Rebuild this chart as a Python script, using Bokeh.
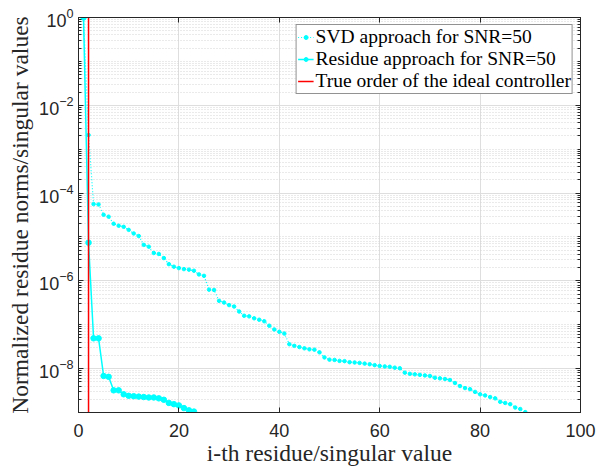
from bokeh.plotting import figure
from bokeh.models import (FixedTicker, LinearAxis, LogAxis, Range1d, Legend, LegendItem,
                          CustomJSTickFormatter)
from bokeh.embed import file_html
from bokeh.resources import INLINE

# ---- data ----
svd_idx = list(range(1, 90))
svd_vals = [1.0, 2.1e-3, 5.6e-5, 5.5e-5, 3.2e-5, 2.9e-5, 2.0e-5, 1.8e-5, 1.7e-5, 1.45e-5,
            1.2e-5, 1.05e-5, 6.6e-6, 6.0e-6, 4.3e-6, 4.1e-6, 3.3e-6, 2.4e-6, 2.1e-6, 1.95e-6,
            1.85e-6, 1.8e-6, 1.7e-6, 1.4e-6, 1.3e-6, 6.3e-7, 6.2e-7, 3.5e-7, 3.2e-7, 2.8e-7,
            2.6e-7, 2.0e-7, 1.6e-7, 1.55e-7, 1.4e-7, 1.3e-7, 1.2e-7, 9.5e-8, 7.8e-8, 6.9e-8,
            6.3e-8, 3.6e-8, 3.3e-8, 3.1e-8, 2.9e-8, 2.75e-8, 2.7e-8, 2.35e-8, 1.8e-8, 1.6e-8,
            1.58e-8, 1.5e-8, 1.48e-8, 1.4e-8, 1.38e-8, 1.35e-8, 1.3e-8, 1.26e-8, 1.2e-8, 1.15e-8,
            1.12e-8, 1.1e-8, 1.05e-8, 1.02e-8, 8.1e-9, 7.6e-9, 7.4e-9, 7.2e-9, 7.0e-9, 6.8e-9,
            6.2e-9, 6.0e-9, 5.8e-9, 5.5e-9, 4.7e-9, 4.0e-9, 3.6e-9, 3.4e-9, 2.95e-9, 2.6e-9,
            2.45e-9, 2.25e-9, 2.1e-9, 1.75e-9, 1.65e-9, 1.55e-9, 1.3e-9, 1.2e-9, 1.02e-9]

res_idx = list(range(1, 24))
res_vals = [1.0, 7.4e-6, 4.9e-8, 4.9e-8, 6.8e-9, 6.5e-9, 3.2e-9, 3.2e-9, 2.6e-9, 2.4e-9,
            2.35e-9, 2.3e-9, 2.25e-9, 2.2e-9, 2.2e-9, 2.1e-9, 1.95e-9, 1.65e-9, 1.55e-9, 1.45e-9,
            1.26e-9, 1.12e-9, 1.05e-9]

true_order = 2
x_min, x_max = 0, 100
y_min, y_max = 1e-9, 1.0
x_ticks = [0, 20, 40, 60, 80, 100]
y_ticks = [1e-8, 1e-6, 1e-4, 1e-2, 1.0]

labels = ["SVD approach for SNR=50", "Residue approach for SNR=50",
          "True order of the ideal controller"]

# minor ticks for log axis (2..9 x 10^k and odd decades)
y_minor = []
for k in range(-9, 0):
    for m in range(1, 10):
        if m == 1 and (k % 2 == 0):
            continue
        y_minor.append(m * 10.0 ** k)

CY = "#00FFFF"
AX = "#262626"
SERIF = "Liberation Serif"
SANS = "Liberation Sans"

p = figure(width=599, height=471, output_backend="svg", toolbar_location=None,
           y_axis_type="log", x_range=Range1d(x_min, x_max), y_range=Range1d(y_min, y_max),
           min_border_left=78, min_border_right=19, min_border_top=17, min_border_bottom=59)
p.background_fill_color = "white"
p.border_fill_color = "white"
p.outline_line_color = AX
p.outline_line_width = 1

xt = FixedTicker(ticks=x_ticks, minor_ticks=[])
yt = FixedTicker(ticks=y_ticks, minor_ticks=y_minor)

p.xaxis.ticker = xt
p.yaxis.ticker = yt
for ax in (p.xaxis[0], p.yaxis[0]):
    ax.axis_line_color = AX
    ax.major_tick_line_color = AX
    ax.minor_tick_line_color = AX
    ax.major_tick_in = 5
    ax.major_tick_out = 0
    ax.minor_tick_in = 3
    ax.minor_tick_out = 0
    ax.major_label_text_font = SANS
    ax.major_label_text_font_size = "18px"
    ax.major_label_text_color = AX
    ax.axis_label_text_font = SERIF
    ax.axis_label_text_font_style = "normal"
    ax.axis_label_text_font_size = "23.5px"
    ax.axis_label_text_color = AX

p.xaxis.axis_label = "i-th residue/singular value"
p.yaxis.axis_label = "Normalized residue norms/singular values"
p.xaxis.major_label_standoff = 11
p.xaxis.axis_label_standoff = 0
p.yaxis.major_label_standoff = 5
p.yaxis.axis_label_standoff = 3

# box axes (top/right) with ticks only
blank = CustomJSTickFormatter(code="return ''")
top = LinearAxis(ticker=xt, formatter=blank, major_tick_in=5, major_tick_out=0,
                 minor_tick_in=0, minor_tick_out=0, axis_line_color=AX, major_tick_line_color=AX,
                 major_label_standoff=0)
right = LogAxis(ticker=yt, formatter=blank, major_tick_in=5, major_tick_out=0,
                minor_tick_in=3, minor_tick_out=0, axis_line_color=AX, major_tick_line_color=AX,
                minor_tick_line_color=AX, major_label_standoff=0)
p.add_layout(top, "above")
p.add_layout(right, "right")

# grids
p.xgrid.ticker = xt
p.ygrid.ticker = yt
p.xgrid.grid_line_color = "#dedede"
p.ygrid.grid_line_color = "#dedede"
p.ygrid.minor_grid_line_color = "#d4d4d4"
p.ygrid.minor_grid_line_dash = "1 2"

# series
r1l = p.line(svd_idx, svd_vals, line_color=CY, line_width=1.2, line_dash="1 2")
r1m = p.scatter(svd_idx, svd_vals, marker="circle", size=3.5, fill_color=CY, line_color=CY)
r2l = p.line(res_idx, res_vals, line_color=CY, line_width=1.5)
r2m = p.scatter(res_idx, res_vals, marker="circle", size=5.5, fill_color=CY, line_color=CY)
r3 = p.line([true_order, true_order], [y_min, y_max], line_color="#FF0000", line_width=1.5)

legend = Legend(items=[LegendItem(label=labels[0], renderers=[r1l, r1m]),
                       LegendItem(label=labels[1], renderers=[r2l, r2m]),
                       LegendItem(label=labels[2], renderers=[r3])],
                location="top_right")
legend.label_text_font = SERIF
legend.label_text_font_size = "19.5px"
legend.label_text_color = "black"
legend.border_line_color = AX
legend.border_line_width = 1
legend.background_fill_color = "white"
legend.background_fill_alpha = 1
legend.margin = 7
legend.padding = 1
legend.spacing = 0
legend.glyph_width = 16
legend.label_standoff = 2
legend.label_height = 21
legend.glyph_height = 10
p.add_layout(legend, "center")

open("out.html", "w").write(file_html(p, INLINE))
